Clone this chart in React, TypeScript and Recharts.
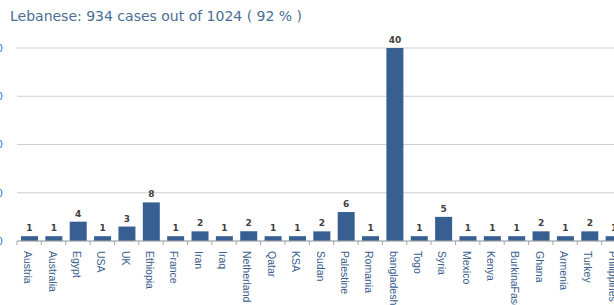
import { BarChart, Bar, XAxis, YAxis, CartesianGrid, LabelList } from "recharts";

const countries = [
	"Austria", "Australia", "Egypt", "USA", "UK", "Ethiopia", "France", "Iran", "Iraq",
	"Netherland", "Qatar", "KSA", "Sudan", "Palestine", "Romania", "bangladesh", "Togo",
	"Syria", "Mexico", "Kenya", "BurkinaFaso", "Ghana", "Armenia", "Turkey", "Philippines",
];
const cases = [1, 1, 4, 1, 3, 8, 1, 2, 1, 2, 1, 1, 2, 6, 1, 40, 1, 5, 1, 1, 1, 2, 1, 2, 1];
const yTicks = [0, 10, 20, 30, 40];

const data = countries.map((c, i) => ({ country: c, cases: cases[i] }));

const CHART_W = 626;
const Y_W = 17;
const BASE = 241;
const BAND = (CHART_W - Y_W) / countries.length;

type TickProps = { x: number; y: number; payload: { value: string | number } };

const renderXTick = ({ x, payload }: TickProps) => {
	const left = x - BAND / 2;
	return (
		<g>
			<line x1={left} y1={BASE} x2={left} y2={BASE + 4} stroke="#a6a6a6" />
			<text
				x={0}
				y={0}
				transform={`translate(${x - 5}, ${BASE + 10}) rotate(90)`}
				textAnchor="start"
				fill="#3a5d8c"
				fontSize={10.5}
				fontFamily="Liberation Sans"
			>
				{payload.value}
			</text>
		</g>
	);
};

const renderYTick = ({ y, payload }: TickProps) => (
	<text
		x={3}
		y={y}
		dy="0.35em"
		textAnchor="end"
		fill="#3f7fc4"
		fontSize={11}
		fontFamily="DejaVu Sans"
	>
		{payload.value}
	</text>
);

export default function App() {
	return (
		<div
			style={{
				position: "absolute",
				left: 0,
				top: 0,
				width: 614,
				height: 305,
				overflow: "hidden",
				background: "#fff",
			}}
		>
			<div
				style={{
					position: "absolute",
					left: 10,
					top: 8,
					fontFamily: "DejaVu Sans",
					fontSize: 14,
					color: "#4a6e94",
					whiteSpace: "nowrap",
				}}
			>
				Lebanese: 934 cases out of 1024 ( 92 % )
			</div>
			<BarChart
				width={CHART_W}
				height={305}
				data={data}
				margin={{ top: 48, right: 0, left: 0, bottom: 0 }}
				style={{ position: "absolute", left: 0, top: 0 }}
			>
				<CartesianGrid vertical={false} stroke="#cfcfcf" />
				<XAxis
					dataKey="country"
					interval={0}
					axisLine={{ stroke: "#a6a6a6" }}
					tickLine={false}
					tick={renderXTick}
					height={64}
				/>
				<YAxis
					width={Y_W}
					domain={[0, 40]}
					ticks={yTicks}
					axisLine={false}
					tickLine={false}
					tick={renderYTick}
				/>
				<Bar dataKey="cases" fill="#375f91" barSize={17} isAnimationActive={false}>
					<LabelList
						dataKey="cases"
						position="top"
						offset={5}
						fill="#404040"
						fontSize={9}
						fontWeight="bold"
						fontFamily="DejaVu Sans"
					/>
				</Bar>
			</BarChart>
		</div>
	);
}
